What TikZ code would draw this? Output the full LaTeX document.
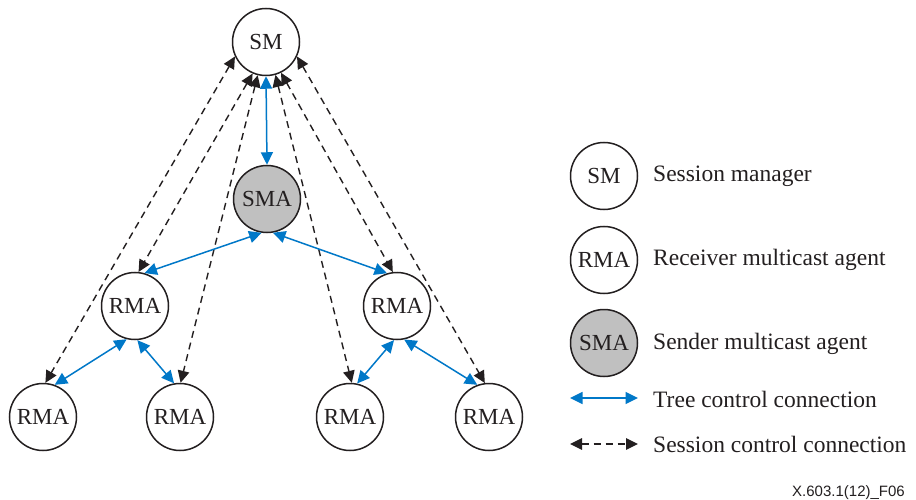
\documentclass[tikz,border=0pt]{standalone}
\usepackage{fontspec}
\setmainfont{Liberation Serif}
\newfontfamily\footfont{Liberation Sans}
\usetikzlibrary{arrows.meta}
\definecolor{tcblue}{RGB}{0,120,200}
\definecolor{ink}{RGB}{35,31,32}
\definecolor{smagray}{RGB}{192,192,192}
\begin{document}
\begin{tikzpicture}[x=1pt,y=-1pt,
  agent/.style={circle,draw=ink,line width=1.5pt,minimum size=67pt,inner sep=0pt,font=\fontsize{23}{23}\selectfont,text=ink},
  sender/.style={agent,fill=smagray},
  tree/.style={draw=tcblue,line width=1.5pt,{Triangle[length=12.5pt,width=12pt,fill=tcblue]}-{Triangle[length=12.5pt,width=12pt,fill=tcblue]}},
  session/.style={draw=ink,line width=1.4pt,dash pattern=on 7pt off 5pt,{Triangle[length=12pt,width=11.5pt,fill=ink]}-{Triangle[length=12pt,width=11.5pt,fill=ink]}},
  legtext/.style={anchor=base west,font=\fontsize{23.5}{24}\selectfont,text=ink,inner sep=0pt},
]
\path[fill=white] (0,0) rectangle (916,500);
\useasboundingbox (0,0) rectangle (916,500);

% diagram nodes
\node[agent]  (sm)  at (266,42)  {SM};
\node[sender] (sma) at (267,199) {SMA};
\node[agent]  (ml)  at (135,306) {RMA};
\node[agent]  (mr)  at (397,306) {RMA};
\node[agent]  (b1)  at (43,417)  {RMA};
\node[agent]  (b2)  at (180,417) {RMA};
\node[agent]  (b3)  at (350,417) {RMA};
\node[agent]  (b4)  at (489,417) {RMA};

% session control connections
\draw[session] (sm.205) -- (b1.86);
\draw[session] (sm.247) -- (ml.84);
\draw[session] (sm.256) -- (b2.89);
\draw[session] (sm.286) -- (b3.87);
\draw[session] (sm.296) -- (mr.97);
\draw[session] (sm.335) -- (b4.97);

% tree control connections
\draw[tree] (sm.south) -- (sma.north);
\draw[tree] (sma.261) -- (ml.74);
\draw[tree] (sma.280) -- (mr.107);
\draw[tree] (ml.256) -- (b1.70);
\draw[tree] (ml.274) -- (b2.100);
\draw[tree] (mr.265) -- (b3.78);
\draw[tree] (mr.282) -- (b4.110);

% legend
\node[agent]  (lsm)  at (604,176) {SM};
\node[agent]  (lrma) at (604,260) {RMA};
\node[sender] (lsma) at (604,343) {SMA};
\node[legtext] (t1) at (653,182) {Session manager};
\node[legtext] (t2) at (653,265) {Receiver multicast agent};
\node[legtext] (t3) at (653,349) {Sender multicast agent};
\coordinate (ta) at (570,398);
\coordinate (tb) at (638,398);
\draw[tree] (ta) -- (tb);
\node[legtext] (t4) at (653,407) {Tree control connection};
\coordinate (sa) at (570,444);
\coordinate (sb) at (638,444);
\draw[session] (sa) -- (sb);
\node[legtext] (t5) at (653,452) {Session control connection};

\node[anchor=base east,inner sep=0pt,font=\footfont\fontsize{15}{15}\selectfont,text=ink] (foot) at (905,496) {X.603.1(12)\_F06};
\end{tikzpicture}
\end{document}
